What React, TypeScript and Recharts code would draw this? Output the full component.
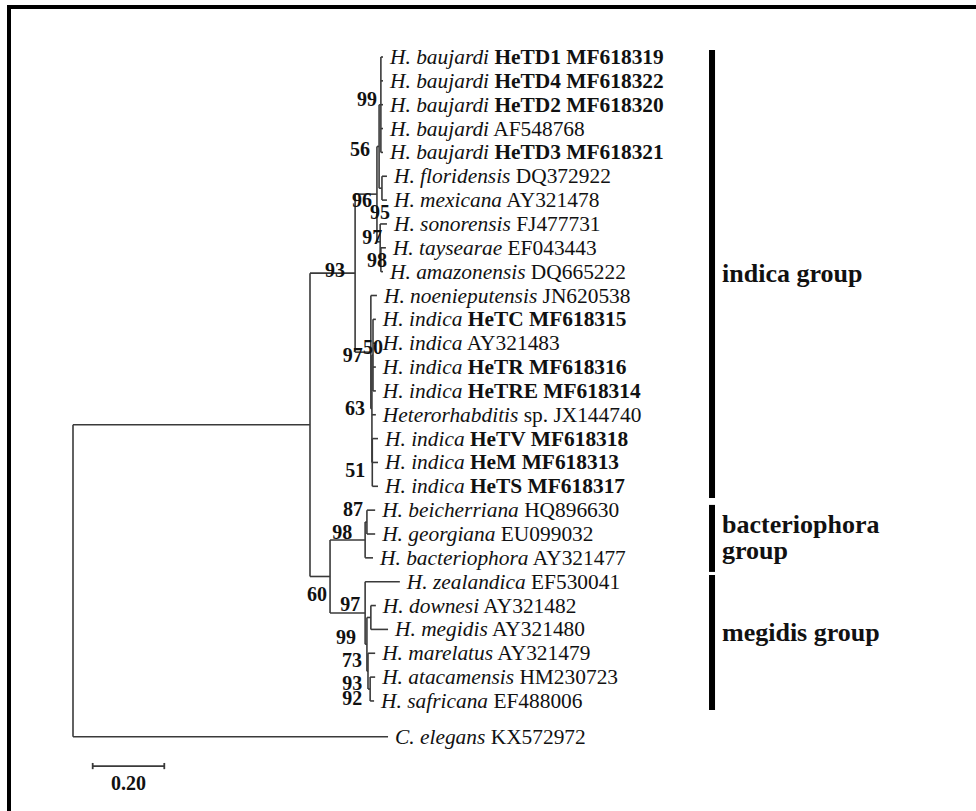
import React from 'react';
import { ComposedChart, XAxis, YAxis, ReferenceLine, Scatter } from 'recharts';

// ---------- DATA ----------
// Taxa, top to bottom
const taxa = [
  'H. baujardi', 'H. baujardi', 'H. baujardi', 'H. baujardi', 'H. baujardi',
  'H. floridensis', 'H. mexicana', 'H. sonorensis', 'H. taysearae', 'H. amazonensis',
  'H. noenieputensis', 'H. indica', 'H. indica', 'H. indica', 'H. indica',
  'Heterorhabditis', 'H. indica', 'H. indica', 'H. indica',
  'H. beicherriana', 'H. georgiana', 'H. bacteriophora',
  'H. zealandica', 'H. downesi', 'H. megidis', 'H. marelatus', 'H. atacamensis', 'H. safricana',
  'C. elegans',
];
// New isolates of this study (shown in bold)
const isolates = [
  'HeTD1', 'HeTD4', 'HeTD2', '', 'HeTD3',
  '', '', '', '', '',
  '', 'HeTC', '', 'HeTR', 'HeTRE',
  '', 'HeTV', 'HeM', 'HeTS',
  '', '', '',
  '', '', '', '', '', '',
  '',
];
const accessions = [
  'MF618319', 'MF618322', 'MF618320', 'AF548768', 'MF618321',
  'DQ372922', 'AY321478', 'FJ477731', 'EF043443', 'DQ665222',
  'JN620538', 'MF618315', 'AY321483', 'MF618316', 'MF618314',
  'sp. JX144740', 'MF618318', 'MF618313', 'MF618317',
  'HQ896630', 'EU099032', 'AY321477',
  'EF530041', 'AY321482', 'AY321480', 'AY321479', 'HM230723', 'EF488006',
  'KX572972',
];
// distance from root to each tip (substitutions/site)
const tipDepth = [
  0.866, 0.866, 0.866, 0.866, 0.866,
  0.877, 0.877, 0.877, 0.874, 0.866,
  0.849, 0.846, 0.846, 0.846, 0.846,
  0.846, 0.852, 0.852, 0.852,
  0.844, 0.844, 0.838,
  0.913, 0.846, 0.880, 0.844, 0.844, 0.841,
  0.880,
];
// vertical order of the tips
const leafRow = [
  0, 1, 2, 3, 4, 5, 6, 7, 8, 9,
  10, 11, 12, 13, 14, 15, 16, 17, 18,
  19, 20, 21, 22, 23, 24, 25, 26, 27,
  28.5,
];

// internal nodes: depth from root and children (L# = tip index)
const clades = [
  { id: 'root', depth: 0, children: ['ingroup', 'L28'] },
  { id: 'ingroup', depth: 0.662, children: ['n93', 'n60'] },
  { id: 'n93', depth: 0.788, children: ['n96', 'nInd'] },
  { id: 'n96', depth: 0.849, children: ['n56', 'n97a'] },
  { id: 'n56', depth: 0.855, children: ['nB99', 'nFM'] },
  { id: 'nB99', depth: 0.860, children: ['L0', 'L1', 'L2', 'L3', 'L4'] },
  { id: 'nFM', depth: 0.863, children: ['L5', 'L6'] },
  { id: 'n97a', depth: 0.858, children: ['L7', 'n98a'] },
  { id: 'n98a', depth: 0.860, children: ['L8', 'L9'] },
  { id: 'nInd', depth: 0.832, children: ['L10', 'n63'] },
  { id: 'n63', depth: 0.835, children: ['n50', 'L15', 'n51'] },
  { id: 'n50', depth: 0.838, children: ['L11', 'L12', 'L13', 'L14'] },
  { id: 'n51', depth: 0.836, children: ['L16', 'L17', 'L18'] },
  { id: 'n60', depth: 0.718, children: ['nBac', 'nMeg'] },
  { id: 'nBac', depth: 0.816, children: ['n87', 'L21'] },
  { id: 'n87', depth: 0.821, children: ['L19', 'L20'] },
  { id: 'nMeg', depth: 0.816, children: ['L22', 'n99'] },
  { id: 'n99', depth: 0.821, children: ['nDM', 'n73'] },
  { id: 'nDM', depth: 0.832, children: ['L23', 'L24'] },
  { id: 'n73', depth: 0.824, children: ['L25', 'n93m'] },
  { id: 'n93m', depth: 0.830, children: ['L26', 'L27'] },
];

// bootstrap support values
const supportNodes = ['nB99', 'n56', 'n96', 'nFM', 'n97a', 'n98a', 'n93', 'nInd', 'n50', 'n63', 'n51',
  'n87', 'nBac', 'n60', 'nMeg', 'n99', 'n73', 'n93m', 'n93m'];
const supportValues = [99, 56, 96, 95, 97, 98, 93, 97, 50, 63, 51, 87, 98, 60, 97, 99, 73, 93, 92];

// groups
const groupLines = [['indica group'], ['bacteriophora', 'group'], ['megidis group']];
const groupStart = [-0.29, 18.78, 21.72];
const groupEnd = [18.49, 21.59, 27.38];
const groupDepth = 1.785;

// scale bar
const scaleStart = 0.055;
const scaleLength = 0.2;
const scaleRow = 29.73;
const scaleLabel = '0.20';

// ---------- LAYOUT / STYLE ----------
const W = 976;
const H = 811;
const SERIF = '"Liberation Serif", "Times New Roman", Times, serif';
const LINE = '#3a3a3a';
const TEXT = '#111';
// [dx, dy] pixel nudges for support labels (right edge / centre relative to node)
const supportNudge: Record<string, [number, number]> = {
  'nB99:99': [-4, -6], 'n56:56': [-9, 3], 'n96:96': [-5, 6], 'nFM:95': [8, 24],
  'n97a:97': [2, -5], 'n98a:98': [6, 0], 'n93:93': [-10, -3], 'nInd:97': [-8, 3],
  'n50:50': [10, -8], 'n63:63': [-7, -1], 'n51:51': [-7, 8], 'n87:87': [-4, -13],
  'nBac:98': [-13, -8], 'n60:60': [-3, 18], 'nMeg:97': [-5, -9], 'n99:99': [-11, -7],
  'n73:73': [-6, -11], 'n93m:93': [-8, -6], 'n93m:92': [-8, 9],
};
const groupNudge = [0, 0, -10];

// ---------- TREE GEOMETRY ----------
const cladeById: Record<string, { id: string; depth: number; children: string[] }> = {};
clades.forEach((c) => { cladeById[c.id] = c; });
const isLeaf = (id: string) => id.startsWith('L');
const depthOf = (id: string): number => (isLeaf(id) ? tipDepth[+id.slice(1)] : cladeById[id].depth);
const rowOf = (id: string): number => {
  if (isLeaf(id)) return leafRow[+id.slice(1)];
  const ch = cladeById[id].children;
  return (rowOf(ch[0]) + rowOf(ch[ch.length - 1])) / 2;
};

type Seg = { x1: number; y1: number; x2: number; y2: number };
const branches: Seg[] = [];
clades.forEach((c) => {
  const rows = c.children.map(rowOf);
  branches.push({ x1: c.depth, y1: rows[0], x2: c.depth, y2: rows[rows.length - 1] });
  c.children.forEach((ch, k) => {
    branches.push({ x1: c.depth, y1: rows[k], x2: depthOf(ch), y2: rows[k] });
  });
});

const leafPoints = taxa.map((_, i) => ({ x: tipDepth[i], y: leafRow[i], i }));
const supportPoints = supportNodes.map((n, k) => ({
  x: cladeById[n].depth,
  y: rowOf(n),
  value: supportValues[k],
  key: `${n}:${supportValues[k]}`,
}));
const groupPoints = groupLines.map((_, g) => ({ x: groupDepth, y: (groupStart[g] + groupEnd[g]) / 2, g }));
const scalePoints = [{ x: scaleStart + scaleLength / 2, y: scaleRow }];

// ---------- SHAPES ----------
const LeafLabel = (props: any) => {
  const { cx, cy, payload } = props;
  const i = payload.i;
  const iso = isolates[i];
  return (
    <text x={cx + 7} y={cy + 7} fontFamily={SERIF} fontSize={21.4} fill={TEXT} style={{ whiteSpace: 'pre' }}>
      <tspan fontStyle="italic">{taxa[i]}</tspan>
      <tspan fontWeight={iso ? 700 : 400}>{' ' + (iso ? iso + ' ' : '') + accessions[i]}</tspan>
    </text>
  );
};

const SupportLabel = (props: any) => {
  const { cx, cy, payload } = props;
  const [dx, dy] = supportNudge[payload.key] || [-4, 0];
  return (
    <text x={cx + dx} y={cy + dy + 7} textAnchor="end" fontFamily={SERIF} fontSize={20} fontWeight={700} fill={TEXT}>
      {payload.value}
    </text>
  );
};

const GroupLabel = (props: any) => {
  const { cx, cy, payload } = props;
  const lines = groupLines[payload.g];
  const lh = 26;
  const top = cy + groupNudge[payload.g] - ((lines.length - 1) * lh) / 2;
  return (
    <text fontFamily={SERIF} fontSize={26} fontWeight={700} fill={TEXT}>
      {lines.map((l, k) => (
        <tspan key={k} x={cx + 10} y={top + k * lh + 8}>{l}</tspan>
      ))}
    </text>
  );
};

const ScaleLabel = (props: any) => {
  const { cx, cy } = props;
  return (
    <text x={cx} y={cy + 24} textAnchor="middle" fontFamily={SERIF} fontSize={20} fontWeight={700} fill={TEXT}>
      {scaleLabel}
    </text>
  );
};

export default function App() {
  return (
    <div style={{ position: 'absolute', left: 0, top: 0, width: W, height: H, background: '#fff', overflow: 'hidden' }}>
      <div style={{ position: 'absolute', left: 7, top: 5, width: W, height: H, borderTop: '4px solid #000', borderLeft: '4px solid #000' }} />
      <ComposedChart width={W} height={H} margin={{ top: 33.15, right: 8, bottom: 2.725, left: 73 }}>
        <XAxis type="number" dataKey="x" domain={[0, 2.5]} hide allowDataOverflow />
        <YAxis type="number" dataKey="y" domain={[-1, 31.5]} reversed hide allowDataOverflow />
        {branches.map((s, k) => (
          <ReferenceLine
            key={`b${k}`}
            segment={[{ x: s.x1, y: s.y1 }, { x: s.x2, y: s.y2 }]}
            stroke={LINE}
            strokeWidth={1.6}
            ifOverflow="visible"
          />
        ))}
        {groupLines.map((_, g) => (
          <ReferenceLine
            key={`g${g}`}
            segment={[{ x: groupDepth, y: groupStart[g] }, { x: groupDepth, y: groupEnd[g] }]}
            stroke="#000"
            strokeWidth={6}
            ifOverflow="visible"
          />
        ))}
        <ReferenceLine
          segment={[{ x: scaleStart, y: scaleRow }, { x: scaleStart + scaleLength, y: scaleRow }]}
          stroke={LINE}
          strokeWidth={1.8}
          ifOverflow="visible"
        />
        <ReferenceLine
          segment={[{ x: scaleStart, y: scaleRow - 0.13 }, { x: scaleStart, y: scaleRow + 0.13 }]}
          stroke={LINE}
          strokeWidth={1.8}
          ifOverflow="visible"
        />
        <ReferenceLine
          segment={[{ x: scaleStart + scaleLength, y: scaleRow - 0.13 }, { x: scaleStart + scaleLength, y: scaleRow + 0.13 }]}
          stroke={LINE}
          strokeWidth={1.8}
          ifOverflow="visible"
        />
        <Scatter data={leafPoints} dataKey="y" shape={LeafLabel} isAnimationActive={false} />
        <Scatter data={supportPoints} dataKey="y" shape={SupportLabel} isAnimationActive={false} />
        <Scatter data={groupPoints} dataKey="y" shape={GroupLabel} isAnimationActive={false} />
        <Scatter data={scalePoints} dataKey="y" shape={ScaleLabel} isAnimationActive={false} />
      </ComposedChart>
    </div>
  );
}
